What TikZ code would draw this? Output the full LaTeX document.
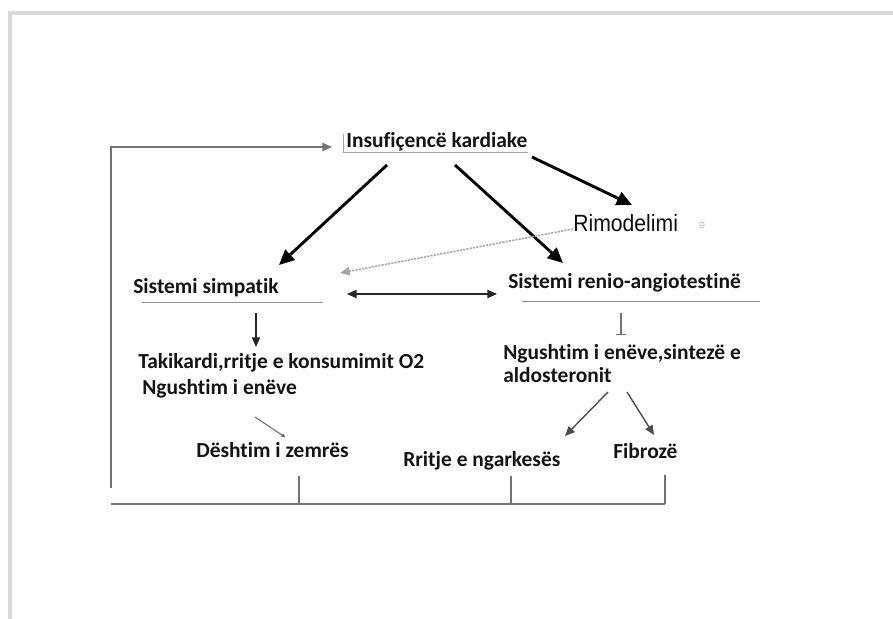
\documentclass[tikz,border=0pt]{standalone}
\usepackage{fontspec}
\setmainfont{Carlito}[Ligatures=NoCommon]
\newfontfamily\rimfont{Liberation Sans}[FakeStretch=0.9]
\usetikzlibrary{arrows.meta}

\begin{document}
\begin{tikzpicture}[x=0.254mm,y=-0.254mm,>={Triangle[length=7pt,width=6pt]},
    lbl/.style={anchor=base west,inner sep=0pt,text=black!92,font=\bfseries\fontsize{15.5}{18}\selectfont},
    big/.style={->,line width=2.1pt,>={Triangle[length=11pt,width=10pt]}},
    link/.style={->,line width=1pt,black!85},
    back/.style={line width=1.1pt,black!55},
    uline/.style={line width=0.7pt,black!45}]
  \useasboundingbox (0,0) rectangle (893,619);
  \draw[black!15,line width=2.5pt] (10,619) -- (10,13) -- (893,13);
  \node[lbl] (ik) at (346,148) {Insufiçencë kardiake};
  \node[anchor=base west,inner sep=0pt,text=black!95,font=\rimfont\fontsize{17}{19}\selectfont] (rim) at (573,232) {Rimodelimi};
  \node[rotate=90,inner sep=0pt,text=black!40,font=\rimfont\fontsize{5}{5}\selectfont] (rimx) at (702,225) {ID};
  \node[lbl] (ss) at (133,293) {Sistemi simpatik};
  \node[lbl] (sr) at (508,288) {Sistemi renio-angiotestinë};
  \node[lbl] (tk) at (138,368) {Takikardi,rritje e konsumimit O2};
  \node[lbl] (ng) at (142,394) {Ngushtim i enëve};
  \node[lbl] (ns) at (503,359) {Ngushtim i enëve,sintezë e};
  \node[lbl] (al) at (503,382) {aldosteronit};
  \node[lbl] (dz) at (196,457) {Dështim i zemrës};
  \node[lbl] (rn) at (403,466) {Rritje e ngarkesës};
  \node[lbl] (fz) at (613,458) {Fibrozë};
  \coordinate (ik-sw) at (387,165);
  \coordinate (ik-s) at (455,165);
  \coordinate (ik-se) at (532,157);
  \coordinate (ss-ne) at (279,265);
  \coordinate (sr-n) at (563,263);
  \coordinate (rim-n) at (632,205);
  \coordinate (rim-w) at (573,229);
  \coordinate (ss-e) at (340,273);
  \coordinate (ss-r) at (347,294);
  \coordinate (sr-l) at (497,294);
  \coordinate (ss-s) at (256,313);
  \coordinate (tk-n) at (256,347);
  \coordinate (sr-s) at (621,313);
  \coordinate (ns-n) at (621,335);
  \coordinate (ng-s) at (255,417);
  \coordinate (dz-n) at (285,437);
  \coordinate (al-sl) at (608,392);
  \coordinate (al-sr) at (627,392);
  \coordinate (rn-ne) at (565,436);
  \coordinate (fz-n) at (654,435);
  \draw[uline,black!35] (343,134) -- (343,152) -- (528,152);
  \draw[uline] (142,302) -- (323,302);
  \draw[uline] (522,301) -- (760,301);
  \draw[back,->] (111,488) -- (111,147) -- (332,147);
  \draw[back] (111,504) -- (665,504);
  \draw[back] (299,476) -- (299,504);
  \draw[back] (511,476) -- (511,504);
  \draw[back] (665,475) -- (665,504);
  \draw[big] (ik-sw) -- (ss-ne);
  \draw[big] (ik-s) -- (sr-n);
  \draw[big] (ik-se) -- (rim-n);
  \draw[->,black!35,line width=1.1pt,dash pattern=on 1.6pt off 0.8pt] (rim-w) -- (ss-e);
  \draw[link,<->] (ss-r) -- (sr-l);
  \draw[link] (ss-s) -- (tk-n);
  \draw[line width=0.8pt,black!55,-{Bar[width=7pt]}] (sr-s) -- (ns-n);
  \draw[line width=0.7pt,black!65,-{Triangle[length=2.5pt,width=2.5pt]}] (ng-s) -- (dz-n);
  \draw[link,black!70] (al-sl) -- (rn-ne);
  \draw[link,black!70] (al-sr) -- (fz-n);
\end{tikzpicture}
\end{document}
